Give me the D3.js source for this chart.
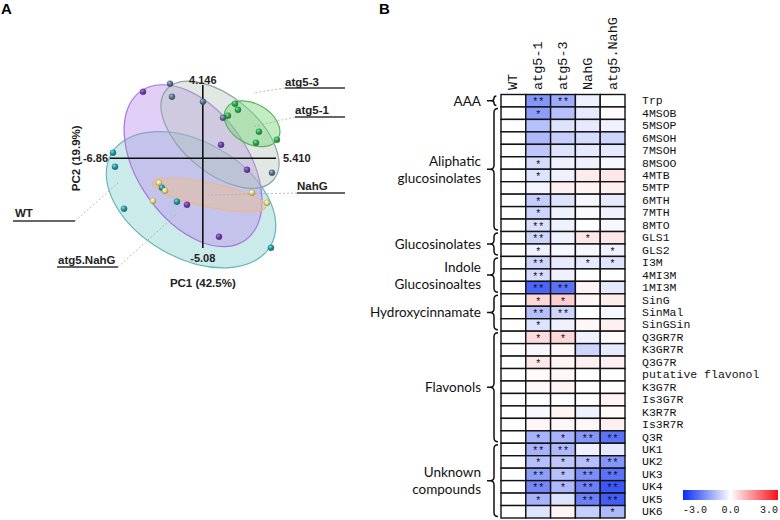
<!DOCTYPE html>
<html>
<head>
<meta charset="utf-8">
<script src="https://cdnjs.cloudflare.com/ajax/libs/d3/7.8.5/d3.min.js"></script>
<style>
  body { margin: 0; background: #fff; }
  svg { display: block; }
  .pca text { font-family: "Liberation Sans", Arial, sans-serif; font-weight: bold; fill: #222; }
  .mono { font-family: "Liberation Mono", "DejaVu Sans Mono", monospace; fill: #111; }
  .grp { font-family: Lato, "Open Sans", sans-serif; font-size: 13.5px; fill: #111; }
</style>
</head>
<body>
<div id="chart"></div>
<script>
// ---------- panel A data: PCA scores (PC1, PC2) ----------
var pcaGroups = ["WT", "atg5-1", "atg5-3", "NahG", "atg5.NahG"];
var wtPoints = [[-6.64, 0.31], [-6.49, -0.48], [-5.82, -2.86], [-3.02, -1.67], [-1.91, -2.46], [5.04, -5.07]];
var atg51Points = [[2.38, 3.08], [2.60, 2.74], [1.86, 2.41], [4.15, 1.50], [3.93, 0.88], [5.48, 1.05]];
var atg53Points = [[-2.42, 4.22], [-2.28, 3.48], [0.01, 3.20], [1.49, 2.29], [5.11, -0.82]];
var nahgPoints = [[-3.24, -1.39], [-2.79, -1.84], [-3.68, -2.41], [3.64, -1.95], [4.75, -2.52]];
var atg5NahgPoints = [[-4.42, 3.76], [1.35, 0.76], [3.27, -0.65], [-1.17, -2.63], [1.20, -4.44]];
// ellipse centres in PC units
var ellipseCenters = [[-0.87, -2.35], [3.64, 1.95], [1.27, 1.33], [0.46, -2.07], [-0.72, -0.42]];
var pc1Range = [-6.86, 5.410];
var pc2Range = [-5.08, 4.146];
var pc1TickLabels = ["-6.86", "5.410"];
var pc2TickLabels = ["-5.08", "4.146"];

// ---------- panel B data ----------
var genotypes = ["WT", "atg5-1", "atg5-3", "NahG", "atg5.NahG"];
var metabolites = ["Trp", "4MSOB", "5MSOP", "6MSOH", "7MSOH", "8MSOO", "4MTB", "5MTP", "6MTH", "7MTH",
  "8MTO", "GLS1", "GLS2", "I3M", "4MI3M", "1MI3M", "SinG", "SinMal", "SinGSin", "Q3GR7R",
  "K3GR7R", "Q3G7R", "putative flavonol", "K3G7R", "Is3G7R", "K3R7R", "Is3R7R", "Q3R",
  "UK1", "UK2", "UK3", "UK4", "UK5", "UK6"];
var wtValues = metabolites.map(function() { return 0; });
var atg51Values = [-1.5, -1.4, -0.9, -1.0, -0.8, -0.5, -0.4, -0.15, -0.7, -0.6,
  -0.45, -0.6, -0.2, -0.6, -0.5, -2.2, 0.5, -0.9, -0.4, 0.45,
  -0.1, 0.3, 0.05, 0.1, 0, -0.1, 0.1, -1.1,
  -1.1, -0.9, -1.4, -1.7, -1.1, -0.4];
var atg53Values = [-1.2, -0.9, -0.4, -0.7, -0.4, -0.2, -0.2, 0.2, -0.4, -0.2,
  -0.2, -0.2, -0.1, -0.3, -0.2, -2.0, 0.6, -0.6, -0.2, 0.5,
  0.1, 0.15, 0.1, 0.15, 0, 0.15, 0.1, -1.1,
  -1.0, -0.8, -0.9, -1.0, -0.4, 0.15];
var nahgValues = [-0.2, -0.3, -0.3, -0.5, -0.3, -0.2, 0.25, 0.15, -0.1, -0.05,
  0, 0.3, -0.1, -0.3, 0, 0.15, 0.1, 0, 0.1, -0.2,
  -0.6, 0.2, 0, 0, 0, -0.2, 0.1, -1.5,
  -0.2, -0.9, -1.6, -1.8, -1.8, -0.7];
var atg5NahgValues = [0, 0.05, -0.2, -0.6, -0.3, -0.1, 0.3, 0.2, -0.3, -0.2,
  -0.1, 0.3, -0.2, -0.4, 0, -0.3, 0.25, -0.1, 0.2, 0.05,
  -0.3, 0.2, 0, 0, 0.15, 0.05, 0.2, -2.0,
  -0.3, -1.5, -2.0, -2.4, -2.3, -1.0];
// significance stars (1 = *, 2 = **)
var wtStars = metabolites.map(function() { return 0; });
var atg51Stars = [2,1,0,0,0, 1,1,0,1,1, 2,2,1,2,2, 2,1,2,1,1, 0,1,0,0,0, 0,0,1,2,1, 2,2,1,0];
var atg53Stars = [2,0,0,0,0, 0,0,0,0,0, 0,0,0,0,0, 2,1,2,0,1, 0,0,0,0,0, 0,0,1,2,1, 1,1,0,0];
var nahgStars = [0,0,0,0,0, 0,0,0,0,0, 0,1,0,1,0, 0,0,0,0,0, 0,0,0,0,0, 0,0,2,0,1, 2,2,2,0];
var atg5NahgStars = [0,0,0,0,0, 0,0,0,0,0, 0,0,1,1,0, 0,0,0,0,0, 0,0,0,0,0, 0,0,2,0,2, 2,2,2,1];
var groupNames = [["AAA"], ["Aliphatic", "glucosinolates"], ["Glucosinolates"], ["Indole", "Glucosinoaltes"],
  ["Hydroxycinnamate"], ["Flavonols"], ["Unknown", "compounds"]];
var groupFirst = ["Trp", "4MSOB", "GLS1", "I3M", "SinG", "Q3GR7R", "UK1"];
var groupLast = ["Trp", "8MTO", "GLS2", "1MI3M", "SinGSin", "Q3R", "UK6"];
var legendTicks = [-3, 0, 3];

var svg = d3.select("#chart").append("svg")
  .attr("width", 780).attr("height", 520);

// ================= panel A =================
var pca = svg.append("g").attr("class", "pca");

var x = d3.scaleLinear().domain(pc1Range).range([110, 276]);
var y = d3.scaleLinear().domain(pc2Range).range([248, 85]);

var groupPoints = [wtPoints, atg51Points, atg53Points, nahgPoints, atg5NahgPoints];
var pointColors = ["#2b8c9c", "#2fa34c", "#546f86", "#e6da78", "#6a3ca8"];
var ellipseFill = ["rgba(130,205,205,0.42)", "rgba(120,215,120,0.45)", "rgba(175,195,185,0.38)",
  "rgba(240,190,140,0.45)", "rgba(185,140,235,0.42)"];
var ellipseStroke = ["#66b5b5", "#5fb35f", "#8fa5a5", "#e8b890", "#a874dc"];
// semi axes (px) and rotation (deg)
var ellipseShape = [[92, 58, 30], [30, 20, 30], [70, 38, 40], [58, 12, 12], [91, 55, 55]];
var drawOrder = [0, 4, 2, 3, 1];

var defs = svg.append("defs");
pointColors.forEach(function(c, i) {
  var g = defs.append("radialGradient").attr("id", "ball" + i)
    .attr("cx", "35%").attr("cy", "30%").attr("r", "70%");
  g.append("stop").attr("offset", "0%").attr("stop-color", d3.color(c).brighter(1.6));
  g.append("stop").attr("offset", "55%").attr("stop-color", c);
  g.append("stop").attr("offset", "100%").attr("stop-color", d3.color(c).darker(0.9));
});

pca.selectAll(".ell")
  .data(drawOrder)
  .enter()
  .append("ellipse")
  .attr("class", "ell")
  .attr("cx", 0).attr("cy", 0)
  .attr("rx", function(i) { return ellipseShape[i][0]; })
  .attr("ry", function(i) { return ellipseShape[i][1]; })
  .attr("transform", function(i) {
    return "translate(" + x(ellipseCenters[i][0]) + "," + y(ellipseCenters[i][1]) + ") rotate(" + ellipseShape[i][2] + ")";
  })
  .attr("fill", function(i) { return ellipseFill[i]; })
  .attr("stroke", function(i) { return ellipseStroke[i]; })
  .attr("stroke-width", 1.2);

// axes
pca.append("line")
  .attr("x1", x(pc1Range[0])).attr("x2", x(pc1Range[1]))
  .attr("y1", y(0)).attr("y2", y(0))
  .attr("stroke", "#111").attr("stroke-width", 1.6);
pca.append("line")
  .attr("x1", x(0)).attr("x2", x(0))
  .attr("y1", y(pc2Range[0])).attr("y2", y(pc2Range[1]))
  .attr("stroke", "#111").attr("stroke-width", 1.6);

pca.append("text").attr("x", x(pc1Range[0]) - 2).attr("y", y(0) + 4)
  .attr("text-anchor", "end").attr("font-size", 11).text(pc1TickLabels[0]);
pca.append("text").attr("x", x(pc1Range[1]) + 7).attr("y", y(0) + 4)
  .attr("font-size", 11).text(pc1TickLabels[1]);
pca.append("text").attr("x", x(0)).attr("y", y(pc2Range[0]) + 14)
  .attr("text-anchor", "middle").attr("font-size", 11).text(pc2TickLabels[0]);
pca.append("text").attr("x", x(0)).attr("y", y(pc2Range[1]) - 1)
  .attr("text-anchor", "middle").attr("font-size", 11).text(pc2TickLabels[1]);

pca.append("text").attr("x", x(0)).attr("y", 287)
  .attr("text-anchor", "middle").attr("font-size", 11.5).text("PC1 (42.5%)");
pca.append("text").attr("transform", "translate(80," + y(0) + ") rotate(-90)")
  .attr("text-anchor", "middle").attr("font-size", 11.5).text("PC2 (19.9%)");

// points
groupPoints.forEach(function(pts, gi) {
  pca.selectAll(".pt" + gi)
    .data(pts)
    .enter()
    .append("circle")
    .attr("class", "pt" + gi)
    .attr("cx", function(d) { return x(d[0]); })
    .attr("cy", function(d) { return y(d[1]); })
    .attr("r", 3)
    .attr("fill", "url(#ball" + gi + ")")
    .attr("stroke", d3.color(pointColors[gi]).darker(1.2))
    .attr("stroke-width", 0.4);
});

// group callouts: label position, underline, leader end
var callouts = [
  { g: 0, tx: 15, ty: 217, lx1: 13, lx2: 75, ly: 221, ex: 118, ey: 183, from: 75 },
  { g: 1, tx: 295, ty: 114, lx1: 295, lx2: 345, ly: 117, ex: 252, ey: 127, from: 295 },
  { g: 2, tx: 285, ty: 86, lx1: 285, lx2: 345, ly: 88, ex: 253, ey: 93, from: 285 },
  { g: 3, tx: 297, ty: 190, lx1: 297, lx2: 345, ly: 193, ex: 208, ey: 195, from: 297 },
  { g: 4, tx: 58, ty: 264, lx1: 57, lx2: 118, ly: 267, ex: 178, ey: 213, from: 118 }
];
callouts.forEach(function(c) {
  pca.append("line").attr("x1", c.from).attr("y1", c.ly).attr("x2", c.ex).attr("y2", c.ey)
    .attr("stroke", "#aaa").attr("stroke-width", 0.8).attr("stroke-dasharray", "2,2");
  pca.append("line").attr("x1", c.lx1).attr("x2", c.lx2).attr("y1", c.ly).attr("y2", c.ly)
    .attr("stroke", "#333").attr("stroke-width", 1.3);
  pca.append("text").attr("x", c.tx).attr("y", c.ty).attr("font-size", 11.5).text(pcaGroups[c.g]);
});

svg.append("text").attr("x", 1).attr("y", 14)
  .attr("font-family", "Liberation Sans, Arial, sans-serif").attr("font-weight", "bold")
  .attr("font-size", 15).text("A");
svg.append("text").attr("x", 379).attr("y", 14)
  .attr("font-family", "Liberation Sans, Arial, sans-serif").attr("font-weight", "bold")
  .attr("font-size", 15).text("B");

// ================= panel B =================
var hm = svg.append("g");
var colValues = [wtValues, atg51Values, atg53Values, nahgValues, atg5NahgValues];
var colStars = [wtStars, atg51Stars, atg53Stars, nahgStars, atg5NahgStars];

var xb = d3.scaleBand().domain(genotypes).range([501, 625]);
var yb = d3.scaleBand().domain(metabolites).range([94.5, 518]);
var color = d3.scaleLinear().domain([-3, 0, 3]).range(["#0b2cf5", "#ffffff", "#f5101a"]).clamp(true);

var cells = [];
genotypes.forEach(function(g, ci) {
  metabolites.forEach(function(m, ri) {
    cells.push({ g: g, m: m, v: colValues[ci][ri], s: colStars[ci][ri] });
  });
});

hm.selectAll(".cell")
  .data(cells)
  .enter()
  .append("rect")
  .attr("class", "cell")
  .attr("x", function(d) { return xb(d.g); })
  .attr("y", function(d) { return yb(d.m); })
  .attr("width", xb.bandwidth())
  .attr("height", yb.bandwidth())
  .attr("fill", function(d) { return color(d.v); })
  .attr("stroke", "#111")
  .attr("stroke-width", 1.4);

hm.selectAll(".star")
  .data(cells.filter(function(d) { return d.s > 0; }))
  .enter()
  .append("text")
  .attr("class", "star mono")
  .attr("x", function(d) { return xb(d.g) + xb.bandwidth() / 2; })
  .attr("y", function(d) { return yb(d.m) + yb.bandwidth() / 2 + 4.5; })
  .attr("text-anchor", "middle")
  .attr("font-size", 10)
  .text(function(d) { return d.s === 2 ? "**" : "*"; });

hm.selectAll(".collab")
  .data(genotypes)
  .enter()
  .append("text")
  .attr("class", "collab mono")
  .attr("transform", function(d) { return "translate(" + (xb(d) + xb.bandwidth() / 2 + 4) + ",90) rotate(-90)"; })
  .attr("font-size", 13.5)
  .text(function(d) { return d; });

hm.selectAll(".rowlab")
  .data(metabolites)
  .enter()
  .append("text")
  .attr("class", "rowlab mono")
  .attr("x", 642)
  .attr("y", function(d) { return yb(d) + yb.bandwidth() / 2 + 3.5; })
  .attr("font-size", 11.5)
  .text(function(d) { return d; });

// group braces
function brace(bx, y0, y1) {
  var ym = (y0 + y1) / 2, w = Math.min(4, (y1 - y0) / 4);
  return "M" + (bx + w) + "," + y0 + " Q" + bx + "," + y0 + " " + bx + "," + (y0 + w) +
    " V" + (ym - w) + " Q" + bx + "," + ym + " " + (bx - w) + "," + ym +
    " Q" + bx + "," + ym + " " + bx + "," + (ym + w) +
    " V" + (y1 - w) + " Q" + bx + "," + y1 + " " + (bx + w) + "," + y1 +
    " M" + (bx - w) + "," + ym + " H" + (bx - 7);
}
groupNames.forEach(function(lines, gi) {
  var y0 = yb(groupFirst[gi]) + 1.5;
  var y1 = yb(groupLast[gi]) + yb.bandwidth() - 1.5;
  var ym = (y0 + y1) / 2;
  hm.append("path").attr("d", brace(494, y0, y1))
    .attr("fill", "none").attr("stroke", "#111").attr("stroke-width", 1.5);
  var t = hm.append("text").attr("class", "grp").attr("text-anchor", "end");
  lines.forEach(function(l, li) {
    t.append("tspan").attr("x", 481)
      .attr("y", ym + 5 + (li - (lines.length - 1) / 2) * 17)
      .text(l);
  });
});

// colour legend
var grad = defs.append("linearGradient").attr("id", "legGrad");
d3.range(-3, 3.01, 0.5).forEach(function(v) {
  grad.append("stop").attr("offset", ((v + 3) / 6 * 100) + "%").attr("stop-color", color(v));
});
var lx = d3.scaleLinear().domain([-3, 3]).range([683, 778]);
hm.append("rect").attr("x", lx(-3)).attr("y", 490)
  .attr("width", lx(3) - lx(-3)).attr("height", 10)
  .attr("fill", "url(#legGrad)");
hm.selectAll(".legtick")
  .data(legendTicks)
  .enter()
  .append("text")
  .attr("class", "legtick mono")
  .attr("x", function(d) { return lx(d); })
  .attr("y", 513)
  .attr("font-size", 10)
  .attr("text-anchor", function(d, i) { return i === 0 ? "start" : (i === 2 ? "end" : "middle"); })
  .text(function(d) { return d3.format(".1f")(d).replace("\u2212", "-"); });
</script>
</body>
</html>
